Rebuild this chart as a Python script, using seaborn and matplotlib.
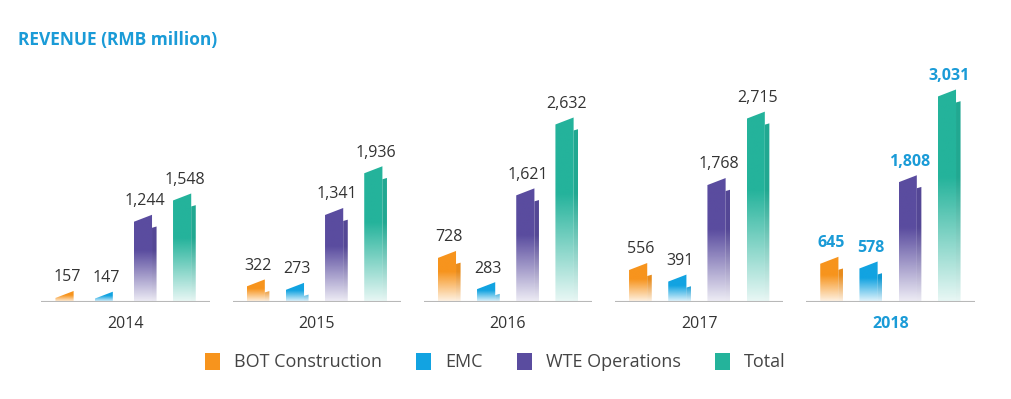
import numpy as np
import pandas as pd
import seaborn as sns
import matplotlib.pyplot as plt
from matplotlib.patches import Patch, Polygon
from matplotlib.colors import to_rgb

# Revenue data (RMB million)
years = ['2014', '2015', '2016', '2017', '2018']
segments = ['BOT Construction', 'EMC', 'WTE Operations', 'Total']
bot_construction = [157, 322, 728, 556, 645]
emc = [147, 273, 283, 391, 578]
wte_operations = [1244, 1341, 1621, 1768, 1808]
total = [1548, 1936, 2632, 2715, 3031]

colors = ['#F7941D', '#12A3E1', '#5A4C9F', '#24B39B']
highlight = '#1A9BD7'

df = pd.DataFrame({
    'year': years * 4,
    'segment': np.repeat(segments, len(years)),
    'value': bot_construction + emc + wte_operations + total,
})

plt.rcParams['font.family'] = ['Open Sans', 'DejaVu Sans']

fig = plt.figure(figsize=(10.12, 3.99), dpi=100)
ax = fig.add_axes([30 / 1012, 97 / 399, 956 / 1012, 262 / 399])

sns.barplot(data=df, x='year', y='value', hue='segment', hue_order=segments,
            palette=colors, width=0.82, gap=0.42, legend=False, ax=ax)

ax.set_xlim(-0.5, 4.5)
ax.set_ylim(0, 3737)
ylim = ax.get_ylim()
units_per_px = (ylim[1] - ylim[0]) / 262
rise = 7 * units_per_px
drop = 13 * units_per_px

# gradient alpha: faded at the bottom, solid towards the top
grad = np.linspace(0, 1, 200)
alpha = np.clip(0.1 + grad / 0.65, 0, 1)

for container, col in zip(ax.containers, colors):
    rgb = np.array(to_rgb(col))
    for bar in container:
        x0, w, h = bar.get_x(), bar.get_width(), bar.get_height()
        bar.set_facecolor('none')
        bar.set_edgecolor('none')
        xf = x0 + 0.8 * w
        x1 = x0 + w
        main = Polygon([(x0, 0), (x0, max(h - rise, 0)), (xf, h), (xf, 0)],
                       closed=True, transform=ax.transData, facecolor='none', edgecolor='none')
        strip = Polygon([(xf, 0), (xf, max(h - drop, 0)), (x1, max(h - drop * 0.9, 0)), (x1, 0)],
                        closed=True, transform=ax.transData, facecolor='none', edgecolor='none')
        ax.add_patch(main)
        ax.add_patch(strip)
        for poly, shade in [(main, 1.0), (strip, 0.94)]:
            img = np.zeros((200, 2, 4))
            img[:, :, :3] = rgb * shade
            img[:, :, 3] = alpha[:, None]
            im = ax.imshow(img, extent=[x0, x1, 0, h], origin='lower',
                           aspect='auto', zorder=2, interpolation='bilinear')
            im.set_clip_path(poly)

ax.set_xlim(-0.5, 4.5)
ax.set_ylim(*ylim)

# value labels
for container in ax.containers:
    texts = ax.bar_label(container, labels=[f'{v:,.0f}' for v in container.datavalues],
                         padding=4, fontsize=11.5, color='#333333')
    texts[-1].set_color(highlight)
    texts[-1].set_fontweight('bold')

# baseline segments under each year group
for i in range(len(years)):
    ax.hlines(0, i - 0.44, i + 0.44, color='#b8b8b8', lw=1.5, zorder=3)

for s in ax.spines.values():
    s.set_visible(False)
ax.set_yticks([])
ax.set_xlabel('')
ax.set_ylabel('')
ax.tick_params(axis='x', length=0, pad=10, labelsize=11.5, labelcolor='#333333')
lbl = ax.get_xticklabels()
lbl[-1].set_color(highlight)
lbl[-1].set_fontweight('bold')

fig.text(18 / 1012, 1 - 40 / 399, 'REVENUE (RMB million)', fontsize=12.5,
         fontweight='bold', color=highlight, va='center', ha='left')

handles = [Patch(facecolor=c, edgecolor='none') for c in colors]
fig.legend(handles, segments, loc='center', bbox_to_anchor=(495 / 1012, 37 / 399),
           ncol=4, frameon=False, fontsize=13, handlelength=0.85, handleheight=1.1,
           handletextpad=0.75, columnspacing=1.9, labelcolor='#444444')

plt.savefig('out.png', dpi=100)
